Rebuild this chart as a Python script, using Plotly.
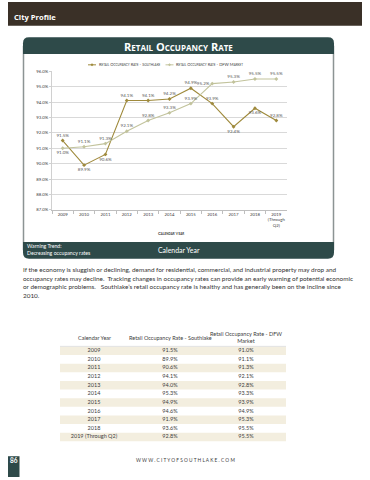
import plotly.graph_objects as go

W, H = 370, 480

# ---------------- data ----------------
years = ["2009", "2010", "2011", "2012", "2013", "2014", "2015", "2016", "2017", "2018", "2019"]
year_tick_labels = ["2009", "2010", "2011", "2012", "2013", "2014", "2015", "2016", "2017", "2018",
                    "2019<br>(Through<br>Q2)"]
southlake_chart = [91.5, 89.9, 90.6, 94.1, 94.1, 94.2, 94.9, 93.9, 92.4, 93.6, 92.8]
dfw_chart = [91.0, 91.1, 91.3, 92.1, 92.8, 93.3, 93.9, 95.2, 95.3, 95.5, 95.5]
y_ticks = [87, 88, 89, 90, 91, 92, 93, 94, 95, 96]
series_names = ["Retail Occupancy Rate - Southlake", "Retail Occupancy Rate - DFW Market"]

table_columns = ["year", "southlake", "dfw"]
table_header = ["Calendar Year", "Retail Occupancy Rate - Southlake", "Retail Occupancy Rate - DFW<br>Market"]
table_years = ["2009", "2010", "2011", "2012", "2013", "2014", "2015", "2016", "2017", "2018", "2019 (Through Q2)"]
table_southlake = [91.5, 89.9, 90.6, 94.1, 94.0, 95.3, 94.9, 94.6, 91.9, 93.6, 92.8]
table_dfw = [91.0, 91.1, 91.3, 92.1, 92.8, 93.3, 93.9, 94.9, 95.3, 95.5, 95.5]

paragraph = [
    "If the economy is sluggish or declining, demand for residential, commercial, and industrial property may drop and",
    "occupancy rates may decline.  Tracking changes in occupancy rates can provide an early warning of potential economic",
    "or demographic problems.   Southlake\u2019s retail occupancy rate is healthy and has generally been on the incline since",
    "2010.",
]

# ---------------- styles ----------------
TEAL = "#2e4a49"
BROWN = "#3a3027"
GOLD = "#9f8a3c"
SAGE = "#c2c39c"
TXT = "#404040"
FONT = "Lato"


def px(x):
    return x / W


def py(y):
    return 1 - y / H


def path_paper(cmds):
    out = []
    for c in cmds:
        out.append(c if isinstance(c, str) else f"{px(c[0]):.5f},{py(c[1]):.5f}")
    return " ".join(out)


fig = go.Figure()

sl_pos = ["top center", "bottom center", "bottom center", "top center", "top center", "top center",
          "top center", "top center", "bottom center", "bottom center", "top center"]
dfw_pos = ["bottom center", "top center", "top center", "top center", "top center", "top center",
           "top center", "middle left", "top center", "top center", "top center"]

for vals, name, col, pos in [(southlake_chart, series_names[0], GOLD, sl_pos),
                             (dfw_chart, series_names[1], SAGE, dfw_pos)]:
    fig.add_trace(go.Scatter(
        x=years, y=vals, name=name, xaxis="x", yaxis="y",
        mode="lines+markers+text", line=dict(color=col, width=1.1),
        marker=dict(size=3, color=col, symbol="diamond"),
        text=[f"{v:.1f}%" for v in vals], textposition=pos,
        textfont=dict(size=4.5, color="#595959", family=FONT), cliponaxis=False,
        showlegend=False,
    ))

# ---- table drawn on its own category axes ----
n = len(table_years)
for colkey, colvals in zip(table_columns,
                           [table_years,
                            [f"{v:.1f}%" for v in table_southlake],
                            [f"{v:.1f}%" for v in table_dfw]]):
    fig.add_trace(go.Scatter(
        x=[colkey] * n, y=table_years, xaxis="x2", yaxis="y2", mode="text",
        text=colvals, textposition="middle center",
        textfont=dict(size=5.5, color=TXT, family=FONT), showlegend=False, hoverinfo="skip",
    ))

shapes = []
# top banner
shapes.append(dict(type="rect", xref="paper", yref="paper", x0=px(8), x1=px(362), y0=py(24), y1=py(0),
                   fillcolor=BROWN, line=dict(width=0), layer="below"))
# card body
shapes.append(dict(type="rect", xref="paper", yref="paper", x0=px(23.5), x1=px(333.5), y0=py(250), y1=py(45),
                   fillcolor="white", line=dict(color="#8c9494", width=1.5), layer="below"))
r = 6
x0, x1 = 23, 334
hy0, hy1 = 35.7, 52.5
shapes.append(dict(type="path", xref="paper", yref="paper", fillcolor=TEAL, line=dict(width=0), layer="below",
                   path=path_paper(["M", (x0, hy1), "L", (x0, hy0 + r), "Q", (x0, hy0), (x0 + r, hy0),
                                    "L", (x1 - r, hy0), "Q", (x1, hy0), (x1, hy0 + r), "L", (x1, hy1), "Z"])))
fy0, fy1 = 242.5, 259.5
shapes.append(dict(type="path", xref="paper", yref="paper", fillcolor=TEAL, line=dict(width=0), layer="below",
                   path=path_paper(["M", (x0, fy0), "L", (x1, fy0), "L", (x1, fy1 - r), "Q", (x1, fy1),
                                    (x1 - r, fy1), "L", (x0 + r, fy1), "Q", (x0, fy1), (x0, fy1 - r), "Z"])))
# legend keys
ann = []
for i, (name, col, lx) in enumerate(zip(series_names, [GOLD, SAGE], [88, 165.5])):
    shapes.append(dict(type="line", xref="paper", yref="paper", x0=px(lx), x1=px(lx + 8), y0=py(63.5),
                       y1=py(63.5), line=dict(color=col, width=1)))
    shapes.append(dict(type="path", xref="paper", yref="paper", fillcolor=col, line=dict(width=0),
                       path=path_paper(["M", (lx + 4, 62), "L", (lx + 5.5, 63.5), "L", (lx + 4, 65),
                                        "L", (lx + 2.5, 63.5), "Z"])))
    ann.append(dict(text=name, x=px(lx + 8.5), y=py(63.5), xref="paper", yref="paper",
                    xanchor="left", yanchor="middle", showarrow=False,
                    font=dict(size=4.1, color="#404040", family=FONT, variant="small-caps")))
# table row shading
for i in range(0, n, 2):
    shapes.append(dict(type="rect", xref="paper", yref="y2", x0=px(60), x1=px(286), y0=i - 0.5, y1=i + 0.5,
                       fillcolor="#f3eedf", line=dict(width=0), layer="below"))
# table header underline
shapes.append(dict(type="line", xref="paper", yref="paper", x0=px(60), x1=px(286), y0=py(348), y1=py(348),
                   line=dict(color="#dcdcdc", width=0.8)))
# page number box
shapes.append(dict(type="rect", xref="paper", yref="paper", x0=px(8), x1=px(19.5), y0=py(480), y1=py(459),
                   fillcolor=TEAL, line=dict(width=0), layer="below"))

for key, head in zip(table_columns, table_header):
    ann.append(dict(text=head, x=key, y=py(339.5), xref="x2", yref="paper",
                    xanchor="center", yanchor="middle", showarrow=False,
                    font=dict(size=5.5, color=TXT, family=FONT)))

ann.append(dict(text="<b>City Profile</b>", x=px(11.5), y=py(15.5), xref="paper", yref="paper",
                xanchor="left", yanchor="middle", showarrow=False,
                font=dict(size=7.6, color="white", family="Open Sans")))
ann.append(dict(text="<b>Retail Occupancy Rate</b>", x=px(178.5), y=py(44.5), xref="paper", yref="paper",
                xanchor="center", yanchor="middle", showarrow=False,
                font=dict(size=11, color="white", family="Open Sans", variant="small-caps")))
ann.append(dict(text="<b>Calendar Year</b>", x=px(171), y=py(233.5), xref="paper", yref="paper",
                xanchor="center", yanchor="middle", showarrow=False,
                font=dict(size=4.3, color="#404040", family=FONT, variant="small-caps")))
ann.append(dict(text="Warning Trend:<br>Decreasing occupancy rates", x=px(25), y=py(250.5), xref="paper",
                yref="paper", xanchor="left", yanchor="middle", align="left", showarrow=False,
                font=dict(size=5.2, color="white", family=FONT)))
ann.append(dict(text="Calendar Year", x=px(178.5), y=py(251), xref="paper", yref="paper",
                xanchor="center", yanchor="middle", showarrow=False,
                font=dict(size=6.9, color="white", family=FONT)))
for i, line in enumerate(paragraph):
    ann.append(dict(text=line, x=px(21), y=py(270.5 + i * 8.7), xref="paper", yref="paper",
                    xanchor="left", yanchor="middle", showarrow=False,
                    font=dict(size=6.4, color="#333333", family=FONT)))
ann.append(dict(text="<b>86</b>", x=px(13.8), y=py(463.5), xref="paper", yref="paper",
                xanchor="center", yanchor="middle", showarrow=False,
                font=dict(size=6.5, color="white", family=FONT)))
ann.append(dict(text="W W W . C I T Y O F S O U T H L A K E . C O M", x=px(185), y=py(463), xref="paper",
                yref="paper", xanchor="center", yanchor="middle", showarrow=False,
                font=dict(size=4.8, color="#404040", family=FONT)))

fig.update_layout(
    width=W, height=H, autosize=False,
    margin=dict(l=0, r=0, t=0, b=0),
    paper_bgcolor="white", plot_bgcolor="rgba(0,0,0,0)",
    showlegend=False,
    xaxis=dict(domain=[px(52), px(287)], type="category", range=[-0.5, 10.5],
               tickvals=years, ticktext=year_tick_labels, tickangle=0,
               showgrid=False, showline=True, linecolor="#bfbfbf", linewidth=0.8,
               ticks="outside", tickson="boundaries", ticklen=3, tickcolor="#bfbfbf",
               tickfont=dict(size=4.3, color="#404040", family=FONT), anchor="y", fixedrange=True),
    yaxis=dict(domain=[py(210), py(70)], range=[87, 96], tickvals=y_ticks,
               ticktext=[f"{v:.1f}%" for v in y_ticks],
               showgrid=True, gridcolor="#d9d9d9", gridwidth=0.8, zeroline=False,
               showline=True, linecolor="#d0d0d0", linewidth=0.8,
               ticks="outside", ticklen=2, tickcolor="#d0d0d0",
               tickfont=dict(size=4.3, color="#404040", family=FONT), anchor="x", fixedrange=True),
    xaxis2=dict(domain=[px(56), px(284)], type="category", categoryarray=table_columns,
                range=[-0.5, 2.5], visible=False, anchor="y2", fixedrange=True),
    yaxis2=dict(domain=[py(444), py(348)], type="category", categoryarray=table_years,
                range=[n - 0.5, -0.5], visible=False, anchor="x2", fixedrange=True),
    shapes=shapes, annotations=ann,
)

fig.write_html("out.html", config={"displayModeBar": False},
               post_script="document.body.style.margin='0px';document.body.style.overflow='hidden';")
